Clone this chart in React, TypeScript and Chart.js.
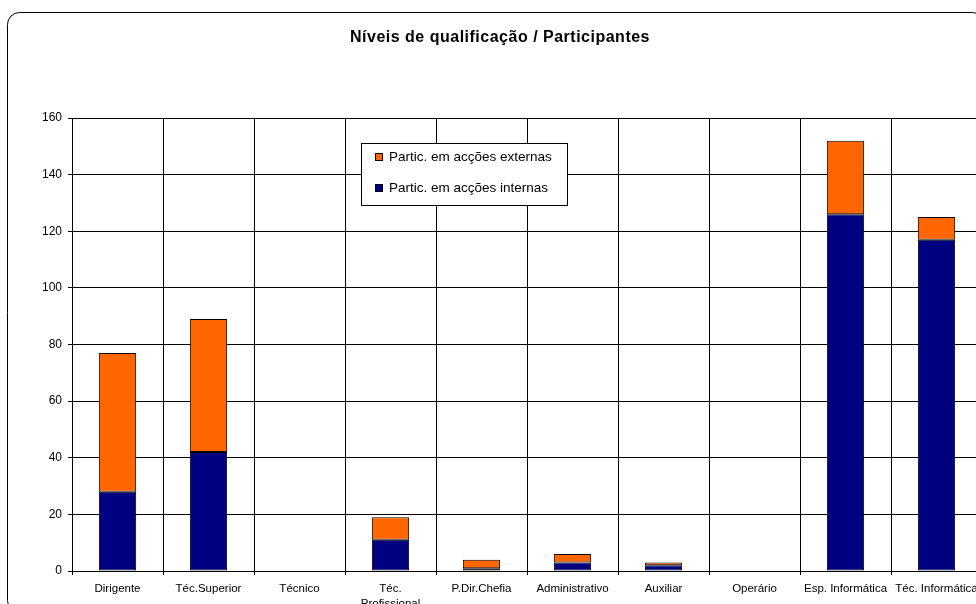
import React, { useEffect, useRef } from 'react';
import { Chart, registerables } from 'chart.js';

Chart.register(...registerables);

// Qualification levels (x axis)
const categories: (string | string[])[] = [
  'Dirigente',
  'Téc.Superior',
  'Técnico',
  ['Téc.', 'Profissional'],
  'P.Dir.Chefia',
  'Administrativo',
  'Auxiliar',
  'Operário',
  'Esp. Informática',
  'Téc. Informática',
];

// Participants in internal training actions (bottom segment)
const internas = [28, 42, 0, 11, 1, 3, 2, 0, 126, 117];
// Participants in external training actions (top segment)
const externas = [49, 47, 0, 8, 3, 3, 1, 0, 26, 8];

const yMin = 0;
const yMax = 160;
const yStep = 20;

const chartTitle = 'Níveis de qualificação / Participantes';
const labelInternas = 'Partic. em acções internas';
const labelExternas = 'Partic. em acções externas';

const FONT = '"Liberation Sans", Arial, Helvetica, sans-serif';
const NAVY = '#000080';
const ORANGE = '#FF6600';

const CANVAS_W = 992;
const CANVAS_H = 620;

// White background plus the rounded outer frame
const framePlugin = {
  id: 'frameAndBackground',
  beforeDraw(chart: any) {
    const ctx = chart.ctx as CanvasRenderingContext2D;
    ctx.save();
    ctx.fillStyle = '#ffffff';
    ctx.fillRect(0, 0, chart.width, chart.height);
    ctx.strokeStyle = '#000000';
    ctx.lineWidth = 1;
    ctx.beginPath();
    ctx.roundRect(7.5, 12.5, 977, 600, 12);
    ctx.stroke();
    ctx.restore();
  },
};

// Bold title centred above the plot
const titlePlugin = {
  id: 'chartTitleText',
  afterDraw(chart: any) {
    const ctx = chart.ctx as CanvasRenderingContext2D;
    ctx.save();
    ctx.fillStyle = '#000000';
    ctx.font = `bold 16px ${FONT}`;
    (ctx as any).letterSpacing = '0.5px';
    ctx.textAlign = 'center';
    ctx.textBaseline = 'middle';
    ctx.fillText(chartTitle, 500, 38);
    ctx.restore();
  },
};

// Boxed legend sitting inside the plot area, top series listed first
const boxLegendPlugin = {
  id: 'boxLegend',
  afterDraw(chart: any) {
    const ctx = chart.ctx as CanvasRenderingContext2D;
    const sets = chart.data.datasets.slice().reverse();
    const bx = 361.5;
    const by = 143.5;
    const bw = 206;
    const bh = 62;
    ctx.save();
    ctx.fillStyle = '#ffffff';
    ctx.fillRect(bx, by, bw, bh);
    ctx.strokeStyle = '#000000';
    ctx.lineWidth = 1;
    ctx.strokeRect(bx, by, bw, bh);
    ctx.font = `13.5px ${FONT}`;
    ctx.textAlign = 'left';
    ctx.textBaseline = 'middle';
    sets.forEach((ds: any, i: number) => {
      const cy = 157 + i * 31;
      ctx.fillStyle = ds.backgroundColor;
      ctx.fillRect(375.5, cy - 3.5, 7, 7);
      ctx.strokeStyle = '#000000';
      ctx.strokeRect(375.5, cy - 3.5, 7, 7);
      ctx.fillStyle = '#000000';
      ctx.fillText(ds.label, 389, cy + 0.5);
    });
    ctx.restore();
  },
};

export default function App() {
  const canvasRef = useRef<HTMLCanvasElement | null>(null);

  useEffect(() => {
    const canvas = canvasRef.current;
    if (!canvas) return;

    const chart = new Chart(canvas, {
      type: 'bar',
      data: {
        labels: categories as any,
        datasets: [
          {
            label: labelInternas,
            data: internas,
            backgroundColor: NAVY,
            borderColor: '#000000',
            borderWidth: 1,
            borderSkipped: false,
            categoryPercentage: 1,
            barPercentage: 0.41,
          },
          {
            label: labelExternas,
            data: externas,
            backgroundColor: ORANGE,
            borderColor: '#000000',
            borderWidth: 1,
            borderSkipped: false,
            categoryPercentage: 1,
            barPercentage: 0.41,
          },
        ],
      },
      options: {
        animation: false,
        responsive: false,
        devicePixelRatio: 1,
        layout: { padding: { top: 118, right: 10, bottom: 0, left: 0 } },
        plugins: {
          legend: { display: false },
          title: { display: false },
          tooltip: { enabled: false },
        },
        scales: {
          x: {
            stacked: true,
            grid: {
              offset: true,
              color: '#000000',
              lineWidth: 1,
              drawTicks: true,
              tickLength: 4,
            },
            border: { color: '#000000', width: 1 },
            ticks: {
              color: '#000000',
              font: { family: FONT, size: 11.5, lineHeight: 1.3 },
              padding: 6,
              maxRotation: 0,
              minRotation: 0,
              autoSkip: false,
            },
            afterFit: (scale: any) => {
              scale.height = 49;
            },
          },
          y: {
            stacked: true,
            min: yMin,
            max: yMax,
            grid: {
              color: '#000000',
              lineWidth: 1,
              drawTicks: true,
              tickLength: 4,
            },
            border: { color: '#000000', width: 1 },
            ticks: {
              stepSize: yStep,
              color: '#000000',
              font: { family: FONT, size: 12 },
              padding: 6,
            },
            afterFit: (scale: any) => {
              scale.width = 72;
            },
          },
        },
      },
      plugins: [framePlugin, titlePlugin, boxLegendPlugin],
    });

    return () => {
      chart.destroy();
    };
  }, []);

  return (
    <div
      style={{
        position: 'fixed',
        left: 0,
        top: 0,
        width: 976,
        height: 604,
        overflow: 'hidden',
        background: '#ffffff',
      }}
    >
      <canvas
        ref={canvasRef}
        width={CANVAS_W}
        height={CANVAS_H}
        style={{ display: 'block', width: CANVAS_W, height: CANVAS_H }}
      />
    </div>
  );
}
